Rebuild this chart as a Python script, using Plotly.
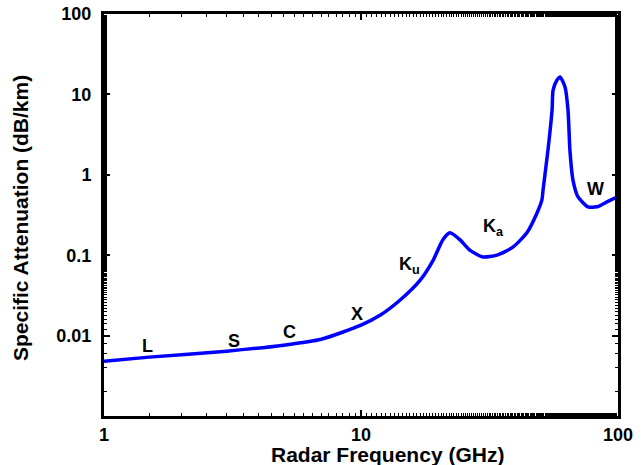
import math
import plotly.graph_objects as go

freq = [1.0, 1.5, 3.0, 5.0, 7.0, 10.0, 11.9, 14.2, 17.0, 19.1, 20.8, 22.2, 24.3, 26.5, 29.8, 33.8,
        39.0, 44.2, 48.4, 50.6, 51.1, 53.4, 55.4, 55.9, 57.9, 59.5, 62.2, 63.9, 65.0, 66.8,
        69.9, 76.4, 82.8, 90.6, 99.1]
atten = [0.0048, 0.0054, 0.0064, 0.0076, 0.0090, 0.0135, 0.018, 0.0277, 0.049, 0.087, 0.155, 0.19,
         0.155, 0.116, 0.095, 0.10, 0.126, 0.19, 0.335, 0.49, 0.65, 2.03, 6.4, 11.3, 15.1, 16.5,
         12.4, 6.4, 2.03, 0.86, 0.53, 0.40, 0.40, 0.46, 0.53]

band_labels = ["L", "S", "C", "X", "K<sub>u</sub>", "K<sub>a</sub>", "W"]
band_x = [1.48, 3.2, 5.25, 9.65, 15.4, 32.9, 82.0]
band_y = [0.0074, 0.0086, 0.011, 0.0186, 0.075, 0.218, 0.665]

xticks = [1, 10, 100]
xtick_text = ["1", "10", "100"]
yticks = [0.01, 0.1, 1, 10, 100]
ytick_text = ["0.01", "0.1", "1", "10", "100"]

FONT = "Liberation Sans, Arial"

fig = go.Figure()
fig.add_trace(go.Scatter(x=freq, y=atten, mode="lines",
                         line=dict(color="#0000ff", width=3.5, shape="spline", smoothing=0.6),
                         showlegend=False, hoverinfo="skip"))

for t, bx, by in zip(band_labels, band_x, band_y):
    fig.add_annotation(x=math.log10(bx), y=math.log10(by), text="<b>" + t + "</b>", showarrow=False,
                       font=dict(family=FONT, size=18, color="black"))

fig.add_annotation(xref="paper", yref="paper", x=0.5525, y=-0.096, text="<b>Radar Frequency (GHz)</b>",
                   showarrow=False, xanchor="center", yanchor="middle",
                   font=dict(family=FONT, size=21, color="black"))
fig.add_annotation(xref="paper", yref="paper", x=-0.1634, y=0.4925, text="<b>Specific Attenuation (dB/km)</b>",
                   showarrow=False, xanchor="center", yanchor="middle", textangle=-90,
                   font=dict(family=FONT, size=21, color="black"))

axis_common = dict(showline=True, linecolor="black", linewidth=3, mirror="allticks",
                   ticks="inside", ticklen=6, tickwidth=2, tickcolor="black",
                   showgrid=False, zeroline=False, automargin=False,
                   tickfont=dict(family=FONT, size=18, color="black"),
                   minor=dict(ticks="inside", ticklen=3, tickwidth=1, tickcolor="black", showgrid=False))

fig.update_xaxes(type="log", range=[0, 2], tickvals=xticks, ticktext=["<b>" + s + "</b>" for s in xtick_text],
                 ticklabelstandoff=0, **axis_common)
fig.update_yaxes(type="log", range=[-3, 2], tickvals=yticks, ticktext=["<b>" + s + "</b>" for s in ytick_text],
                 ticklabelstandoff=6, **axis_common)

fig.update_layout(width=643, height=465, margin=dict(l=104, r=25, t=14, b=49),
                  plot_bgcolor="white", paper_bgcolor="white",
                  font=dict(family=FONT, size=16, color="black"))

fig.write_html("out.html", config={"displayModeBar": False},
               post_script="document.body.style.margin='0';document.body.style.overflow='hidden';")
